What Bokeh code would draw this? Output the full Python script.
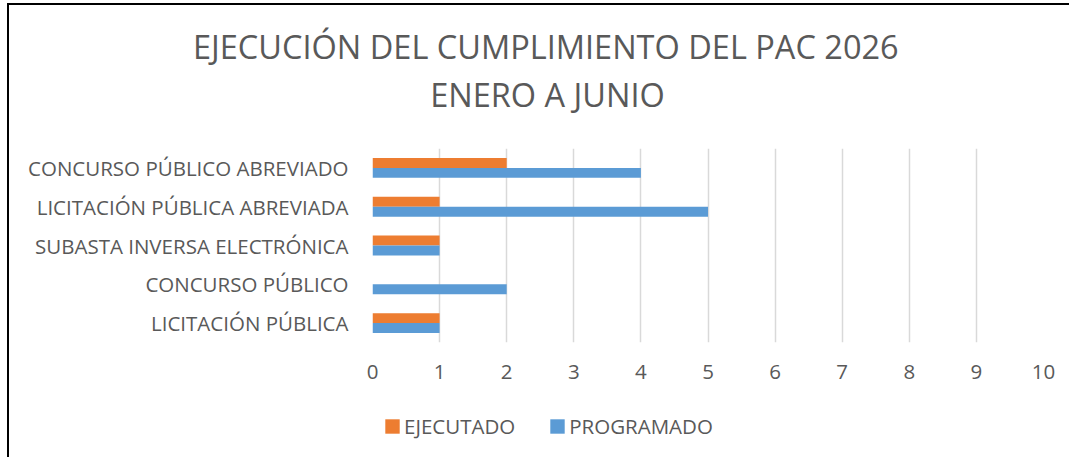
from bokeh.plotting import figure
from bokeh.models import (FactorRange, Range1d, ColumnDataSource, Legend, LegendItem,
                          FixedTicker, Title)
from bokeh.layouts import column
from bokeh.transform import dodge
from bokeh.embed import file_html
from bokeh.resources import INLINE

categories = ["CONCURSO PÚBLICO ABREVIADO", "LICITACIÓN PÚBLICA ABREVIADA",
              "SUBASTA INVERSA ELECTRÓNICA", "CONCURSO PÚBLICO", "LICITACIÓN PÚBLICA"]
ejecutado = [2, 1, 1, 0, 1]
programado = [4, 5, 1, 2, 1]
x_ticks = [0, 1, 2, 3, 4, 5, 6, 7, 8, 9, 10]
title_lines = ["EJECUCIÓN DEL CUMPLIMIENTO DEL PAC 2026", "ENERO A JUNIO"]
series_names = ["EJECUTADO", "PROGRAMADO"]

ORANGE = "#ED7D31"
BLUE = "#5B9BD5"
GRAY = "#595959"
FONT = "Open Sans"

src = ColumnDataSource(dict(cat=categories, ej=ejecutado, pr=programado))

# the whole layout is shifted by the CSS border/margin: 9 px right, 5 px down
p = figure(width=1060, height=387, output_backend="svg", toolbar_location=None,
           y_range=FactorRange(*categories[::-1]), x_range=Range1d(0, 10),
           min_border_left=363, min_border_right=26, min_border_top=143,
           min_border_bottom=50)
p.outline_line_color = None
p.background_fill_color = "white"
p.border_fill_color = "white"

r_ej = p.hbar(y=dodge("cat", 0.128, range=p.y_range), right="ej", left=0, height=0.256,
              source=src, fill_color=ORANGE, line_color=None)
r_pr = p.hbar(y=dodge("cat", -0.128, range=p.y_range), right="pr", left=0, height=0.256,
              source=src, fill_color=BLUE, line_color=None)

p.xaxis.ticker = FixedTicker(ticks=x_ticks)
p.xgrid.grid_line_color = "#D9D9D9"
p.xgrid.grid_line_width = 1.5
p.ygrid.grid_line_color = None
for ax in (p.xaxis[0], p.yaxis[0]):
    ax.axis_line_color = None
    ax.major_tick_line_color = None
    ax.minor_tick_line_color = None
    ax.major_label_text_color = GRAY
    ax.major_label_text_font = FONT
    ax.major_label_text_font_size = "20.5px"
p.xaxis.major_label_standoff = 16
p.yaxis.major_label_standoff = 18

# two title lines stacked above the frame (line 2 nearest the frame)
p.add_layout(Title(text=title_lines[1], align="left", offset=57.7, standoff=64,
                   text_font=FONT, text_font_size="32.5px", text_color=GRAY,
                   text_font_style="normal"), "above")
p.add_layout(Title(text=title_lines[0], align="left", offset=-179.5, standoff=-62,
                   text_font=FONT, text_font_size="32.5px", text_color=GRAY,
                   text_font_style="normal"), "above")

# legend strip: a second figure (its frame is aligned with the main frame)
q = figure(width=1060, height=65, output_backend="svg", toolbar_location=None,
           x_axis_type=None, y_axis_type=None, x_range=Range1d(0, 1), y_range=Range1d(0, 1),
           min_border=0)
q.outline_line_color = None
q.border_fill_color = "white"
q.background_fill_color = "white"
lg_ej = q.hbar(y=[-5], right=[0], left=[0], height=0.1, fill_color=ORANGE, line_color=None)
lg_pr = q.hbar(y=[-5], right=[0], left=[0], height=0.1, fill_color=BLUE, line_color=None)
legend = Legend(items=[LegendItem(label=series_names[0], renderers=[lg_ej]),
                       LegendItem(label=series_names[1], renderers=[lg_pr])],
                orientation="horizontal", location=(11, 17),
                label_text_font=FONT, label_text_font_size="20.5px",
                label_text_color=GRAY, glyph_width=18, glyph_height=18,
                label_standoff=3, spacing=33, padding=0, margin=0,
                border_line_color=None, background_fill_alpha=0)
q.add_layout(legend, "center")

layout = column(p, q, spacing=0)
layout.styles = {"border-left": "2px solid black", "border-top": "2px solid black",
                 "margin-left": "7px", "margin-top": "3px"}

open("out.html", "w").write(file_html(layout, INLINE))
